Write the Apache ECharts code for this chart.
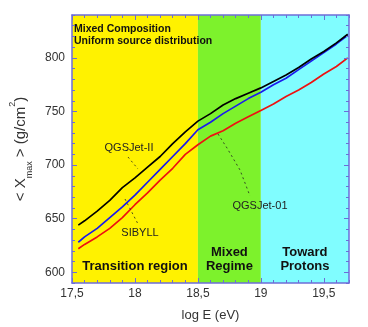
<!DOCTYPE html>
<html>
<head>
<meta charset="utf-8">
<title>Xmax vs log E</title>
<script src="https://cdn.jsdelivr.net/npm/echarts@6/dist/echarts.min.js"></script>
<style>
  html, body { margin: 0; padding: 0; background: #fff; }
  #chart { width: 368px; height: 327px; }
</style>
</head>
<body>
<div id="chart"></div>
<script>
// log E (eV)
const logE = [17.55, 17.6, 17.7, 17.8, 17.9, 18.0, 18.1, 18.2, 18.3, 18.4, 18.5,
  18.6, 18.7, 18.8, 18.9, 19.0, 19.1, 19.2, 19.3, 19.4, 19.5, 19.6, 19.69]
// <Xmax> (g/cm2)
const qgsjet2 = [644, 648, 657, 667, 679, 688, 698, 708, 720, 731, 741,
  748, 756, 762, 767, 772, 778, 784, 791, 799, 806, 814, 822]
const sibyll = [628, 633, 641, 651, 661, 672, 684, 696, 708, 720, 733,
  740, 748, 755, 762, 768, 775, 781, 789, 797, 805, 813, 821]
const qgsjet01 = [622, 626, 633, 641, 651, 663, 674, 686, 697, 710, 719,
  727, 732, 739, 745, 751, 757, 764, 770, 777, 785, 792, 800]

// bands : transition / mixed / protons
const bandEdges = [17.5, 18.5, 19.0, 19.7]
const bandNames = ['Transition region', 'Mixed\nRegime', 'Toward\nProtons']
const bandColors = ['#fff200', '#7df22c', '#80fdff']

const xTicks = [17.5, 18, 18.5, 19, 19.5]
const yTicks = [600, 650, 700, 750, 800]

const border = '#6d6dd8'
const font = "'Liberation Sans', Arial, sans-serif"

const chart = echarts.init(document.getElementById('chart'))

// major axis draws the frame line, minor one only the small ticks
function xAxisDef(pos, major, labels) {
  return {
    type: 'value',
    position: pos,
    z: 10,
    min: 17.5,
    max: 19.7,
    interval: 0.1,
    axisLine: { show: major, onZero: false, lineStyle: { color: border, width: 1.5 } },
    axisTick: major
      ? { inside: true, length: 5, customValues: xTicks, lineStyle: { color: border } }
      : { inside: true, length: 3, lineStyle: { color: border } },
    axisLabel: labels
      ? {
          customValues: xTicks,
          margin: 5,
          color: '#333',
          fontFamily: font,
          fontSize: 12,
          formatter: v => String(v).replace('.', ','),
        }
      : { show: false },
    splitLine: { show: false },
    name: labels ? 'log E (eV)' : '',
    nameLocation: 'middle',
    nameGap: 26,
    nameTextStyle: { color: '#333', fontFamily: font, fontSize: 13 },
  }
}

function yAxisDef(pos, major, labels) {
  return {
    type: 'value',
    position: pos,
    z: 10,
    min: 590,
    max: 840,
    interval: 10,
    axisLine: { show: major, onZero: false, lineStyle: { color: border, width: 1.5 } },
    axisTick: major
      ? { inside: true, length: 5, customValues: yTicks, lineStyle: { color: border } }
      : { inside: true, length: 3, lineStyle: { color: border } },
    axisLabel: labels
      ? { customValues: yTicks, margin: 7, color: '#333', fontFamily: font, fontSize: 12 }
      : { show: false },
    splitLine: { show: false },
    name: labels ? '< X{sub|max} > (g/cm{sup|2})' : '',
    nameLocation: 'middle',
    nameGap: 38,
    nameTextStyle: {
      color: '#333',
      fontFamily: font,
      fontSize: 15,
      lineHeight: 22,
      rich: {
        sub: { fontSize: 9, fontFamily: font, color: '#333', verticalAlign: 'bottom', lineHeight: 14 },
        sup: { fontSize: 9, fontFamily: font, color: '#333', verticalAlign: 'top', lineHeight: 26 },
      },
    },
  }
}

function lineSeries(name, ys, color, z) {
  return {
    name: name,
    type: 'line',
    data: logE.map((x, i) => [x, ys[i]]),
    showSymbol: false,
    z: z,
    lineStyle: { color: color, width: 1.7 },
    silent: true,
  }
}

const option = {
  animation: false,
  backgroundColor: '#fff',
  grid: { left: 63, right: 19, top: 15, bottom: 42 },
  xAxis: [
    xAxisDef('bottom', true, true),
    xAxisDef('bottom', false, false),
    xAxisDef('top', true, false),
    xAxisDef('top', false, false),
  ],
  yAxis: [
    yAxisDef('left', true, true),
    yAxisDef('left', false, false),
    yAxisDef('right', true, false),
    yAxisDef('right', false, false),
  ],
  series: [
    {
      type: 'line',
      data: [],
      z: 1,
      silent: true,
      markArea: {
        silent: true,
        data: bandNames.map((n, i) => [
          {
            name: n,
            xAxis: bandEdges[i],
            itemStyle: { color: bandColors[i], opacity: 1 },
          },
          { xAxis: bandEdges[i + 1] },
        ]),
        label: {
          show: true,
          position: 'insideBottom',
          distance: 10,
          color: '#111',
          fontFamily: font,
          fontWeight: 'bold',
          fontSize: 13,
          lineHeight: 14,
          align: 'center',
        },
      },
    },
    lineSeries('QGSJet-01', qgsjet01, '#ee1111', 3),
    lineSeries('SIBYLL', sibyll, '#1a1aee', 4),
    lineSeries('QGSJet-II', qgsjet2, '#000000', 5),
  ],
  graphic: [
    {
      type: 'text', left: 74, top: 24, z: 10,
      style: { text: 'Mixed Composition', font: 'bold 10.5px ' + font, fill: '#111' },
    },
    {
      type: 'text', left: 74, top: 36, z: 10,
      style: { text: 'Uniform source distribution', font: 'bold 10.5px ' + font, fill: '#111' },
    },
    {
      type: 'text', x: 129, y: 148, z: 10,
      style: { text: 'QGSJet-II', font: '11px ' + font, fill: '#222', align: 'center', verticalAlign: 'middle' },
    },
    {
      type: 'text', x: 140, y: 233, z: 10,
      style: { text: 'SIBYLL', font: '11px ' + font, fill: '#222', align: 'center', verticalAlign: 'middle' },
    },
    {
      type: 'text', x: 260, y: 206, z: 10,
      style: { text: 'QGSJet-01', font: '11px ' + font, fill: '#222', align: 'center', verticalAlign: 'middle' },
    },
    // leader lines
    {
      type: 'polyline', z: 10, silent: true,
      shape: { points: [[128, 157], [138, 169]] },
      style: { stroke: '#222', lineWidth: 0.8, lineDash: [2, 3], fill: null },
    },
    {
      type: 'polyline', z: 10, silent: true,
      shape: { points: [[125, 199], [138, 224]] },
      style: { stroke: '#222', lineWidth: 0.8, lineDash: [2, 3], fill: null },
    },
    {
      type: 'polyline', z: 10, silent: true,
      shape: { points: [[218, 134], [227, 148], [240, 170], [250, 196]] },
      style: { stroke: '#222', lineWidth: 0.8, lineDash: [2, 3], fill: null },
    },
  ],
}

chart.setOption(option)
</script>
</body>
</html>
